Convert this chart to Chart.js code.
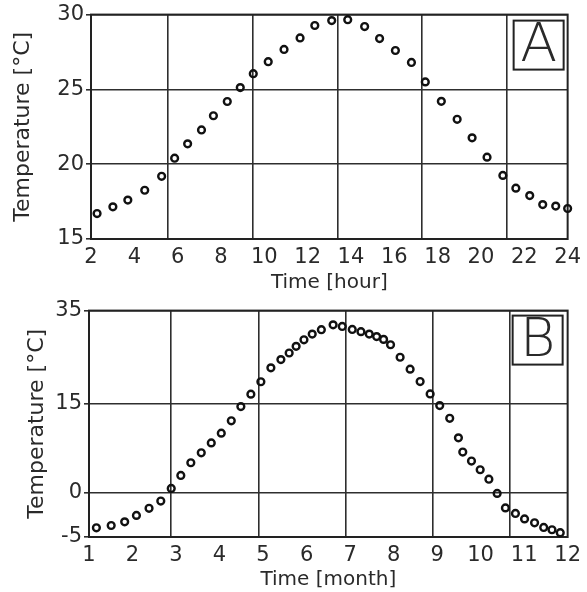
<!DOCTYPE html>
<html>
<head>
<meta charset="utf-8">
<script src="https://cdn.jsdelivr.net/npm/chart.js"></script>
<style>
  html, body { margin: 0; padding: 0; background: #fff; }
  .wrap { position: relative; width: 587px; height: 296px; }
</style>
</head>
<body>
<div class="wrap"><canvas id="chartA"></canvas></div>
<div class="wrap"><canvas id="chartB"></canvas></div>
<script>
/* Two panels: daily (A) and yearly (B) temperature curves, open-circle markers. */

// Panel A: time of day [hour] vs temperature
const hoursA = [2.28, 3.01, 3.70, 4.48, 5.26, 5.86, 6.46, 7.10, 7.65, 8.29, 8.89,
  9.49, 10.18, 10.91, 11.65, 12.33, 13.11, 13.85, 14.63, 15.32, 16.05, 16.79,
  17.43, 18.17, 18.90, 19.59, 20.28, 21.01, 21.61, 22.25, 22.85, 23.45, 24.0];
const tempA = [16.7, 17.15, 17.6, 18.26, 19.19, 20.4, 21.36, 22.29, 23.24, 24.19, 25.12,
  26.05, 26.85, 27.67, 28.44, 29.27, 29.6, 29.66, 29.2, 28.4, 27.6, 26.8,
  25.5, 24.2, 23.0, 21.76, 20.47, 19.25, 18.4, 17.9, 17.3, 17.2, 17.04];
const tempTicksA = [15, 20, 25, 30];
const gridHoursA = [5.54, 9.49, 13.39, 17.29, 21.2];

// Panel B: month vs temperature
const monthsB = [1.17, 1.51, 1.82, 2.09, 2.38, 2.65, 2.89, 3.11, 3.34, 3.58, 3.81,
  4.04, 4.27, 4.49, 4.72, 4.95, 5.18, 5.41, 5.60, 5.76, 5.94, 6.13, 6.34, 6.61,
  6.82, 7.05, 7.25, 7.44, 7.61, 7.77, 7.93, 8.15, 8.38, 8.61, 8.84, 9.06, 9.29,
  9.49, 9.59, 9.79, 9.99, 10.19, 10.38, 10.57, 10.80, 11.01, 11.24, 11.45, 11.64, 11.83];
const tempB = [-3.97, -3.71, -3.30, -2.58, -1.78, -0.97, 0.67, 2.87, 5.02, 6.71, 8.39,
  10.04, 12.13, 14.54, 17.09, 19.74, 22.72, 24.49, 25.91, 27.34, 28.74, 29.96, 30.91, 31.94,
  31.60, 30.96, 30.49, 29.96, 29.43, 28.83, 27.68, 25.0, 22.45, 19.79, 17.13, 14.71, 12.56,
  9.24, 6.84, 5.31, 3.84, 2.24, -0.11, -1.74, -2.36, -2.97, -3.41, -3.93, -4.19, -4.52];
const tempTicksB = [-5, 0, 15, 35];
// where each of tempTicksB sits along the axis (0 = bottom, 1 = top); the original axis is uneven
const tempTickPosB = [0, 0.197, 0.588, 1];
const gridMonthsB = [2.87, 4.90, 6.90, 8.90, 10.66];

const FONT = '"DejaVu Sans", sans-serif';
const INK = '#2a2a2a';
const LINE = '#2e2e2e';

// Linear scale that maps the listed tick values to fixed fractions of the axis.
class PiecewiseScale extends Chart.LinearScale {
  getPixelForValue(value) {
    if (value == null || isNaN(value)) return NaN;
    const t = tempTicksB, f = tempTickPosB;
    let i = 0;
    while (i < t.length - 2 && value > t[i + 1]) i++;
    const dec = f[i] + (value - t[i]) / (t[i + 1] - t[i]) * (f[i + 1] - f[i]);
    return this.getPixelForDecimal(dec);
  }
  getValueForPixel(pixel) {
    const dec = this.getDecimalForPixel(pixel);
    const t = tempTicksB, f = tempTickPosB;
    let i = 0;
    while (i < f.length - 2 && dec > f[i + 1]) i++;
    return t[i] + (dec - f[i]) / (f[i + 1] - f[i]) * (t[i + 1] - t[i]);
  }
}
PiecewiseScale.id = 'piecewise';
PiecewiseScale.defaults = Chart.LinearScale.defaults;
Chart.register(PiecewiseScale);

// frame round the plot + the boxed panel letter
const framePlugin = {
  id: 'frame',
  beforeDatasetsDraw(chart, args, opts) {
    const { ctx, chartArea: a } = chart;
    ctx.save();
    ctx.strokeStyle = '#222';
    ctx.lineWidth = 2;
    ctx.strokeRect(a.left, a.top, a.right - a.left, a.bottom - a.top);
    ctx.restore();
  },
  afterDraw(chart, args, opts) {
    const { ctx, chartArea: a } = chart;
    const w = 50, h = 49;
    const x = a.right - opts.right - w, y = a.top + opts.top;
    ctx.save();
    ctx.fillStyle = '#fff';
    ctx.fillRect(x, y, w, h);
    ctx.strokeStyle = '#222';
    ctx.lineWidth = 2;
    ctx.strokeRect(x, y, w, h);
    ctx.fillStyle = INK;
    ctx.font = '200 54px ' + FONT;
    ctx.textAlign = 'center';
    ctx.textBaseline = 'middle';
    ctx.fillText(opts.letter, x + w / 2, y + h / 2 + 2);
    ctx.restore();
  }
};

function pointSet(xs, ys) {
  return {
    data: xs.map((x, i) => ({ x, y: ys[i] })),
    showLine: false,
    pointStyle: 'circle',
    pointRadius: 3.4,
    pointBorderWidth: 2.4,
    pointBorderColor: '#111',
    pointBackgroundColor: 'rgba(255,255,255,0)',
    clip: false,
  };
}

function makePanel(id, o) {
  return new Chart(document.getElementById(id), {
    type: 'scatter',
    data: { datasets: [pointSet(o.xs, o.ys)] },
    plugins: [framePlugin],
    options: {
      responsive: true,
      maintainAspectRatio: false,
      animation: false,
      layout: { padding: { top: o.padTop, right: o.padRight, left: 0, bottom: 0 } },
      plugins: {
        legend: { display: false },
        tooltip: { enabled: false },
        frame: { letter: o.letter, right: o.boxRight, top: o.boxTop },
      },
      scales: {
        x: {
          type: 'linear', min: o.xMin, max: o.xMax,
          ticks: { stepSize: o.xStep, autoSkip: false, maxRotation: 0, padding: 6,
            color: INK, font: { family: FONT, size: 21 } },
          grid: { display: false, drawTicks: false },
          border: { display: false },
          title: { display: true, text: o.xTitle, color: INK,
            font: { family: FONT, size: 20 }, padding: { top: 0, bottom: o.xTitlePad } },
          afterFit: (s) => { s.height = o.xAxisH; },
        },
        xg: {
          type: 'linear', position: 'top', min: o.xMin, max: o.xMax,
          afterBuildTicks: (s) => { s.ticks = o.gridXs.map((v) => ({ value: v })); },
          ticks: { display: false },
          grid: { color: LINE, lineWidth: 1.6, drawTicks: false },
          border: { display: false },
          afterFit: (s) => { s.height = 0; },
        },
        y: {
          type: o.yType, min: o.yMin, max: o.yMax,
          afterBuildTicks: (s) => { s.ticks = o.yTicks.map((v) => ({ value: v })); },
          ticks: { autoSkip: false, padding: 2, color: INK, font: { family: FONT, size: 21 } },
          grid: { color: LINE, lineWidth: 1.6, tickLength: 5 },
          border: { display: false },
          title: { display: true, text: 'Temperature [°C]', color: INK,
            font: { family: FONT, size: 22 }, padding: { top: o.yTitlePad, bottom: 0 } },
          afterFit: (s) => { s.width = o.yAxisW; },
        },
      },
    },
  });
}

makePanel('chartA', {
  xs: hoursA, ys: tempA, xMin: 2, xMax: 24, xStep: 2, gridXs: gridHoursA,
  yType: 'linear', yMin: 15, yMax: 30, yTicks: tempTicksA,
  xTitle: 'Time [hour]', letter: 'A',
  padTop: 13, padRight: 17, xAxisH: 57, yAxisW: 91,
  xTitlePad: 1, yTitlePad: 10, boxRight: 4, boxTop: 6,
});

makePanel('chartB', {
  xs: monthsB, ys: tempB, xMin: 1, xMax: 12, xStep: 1, gridXs: gridMonthsB,
  yType: 'piecewise', yMin: -5, yMax: 35, yTicks: tempTicksB,
  xTitle: 'Time [month]', letter: 'B',
  padTop: 13, padRight: 18, xAxisH: 55, yAxisW: 89,
  xTitlePad: 0, yTitlePad: 24, boxRight: 5, boxTop: 5,
});
</script>
</body>
</html>
